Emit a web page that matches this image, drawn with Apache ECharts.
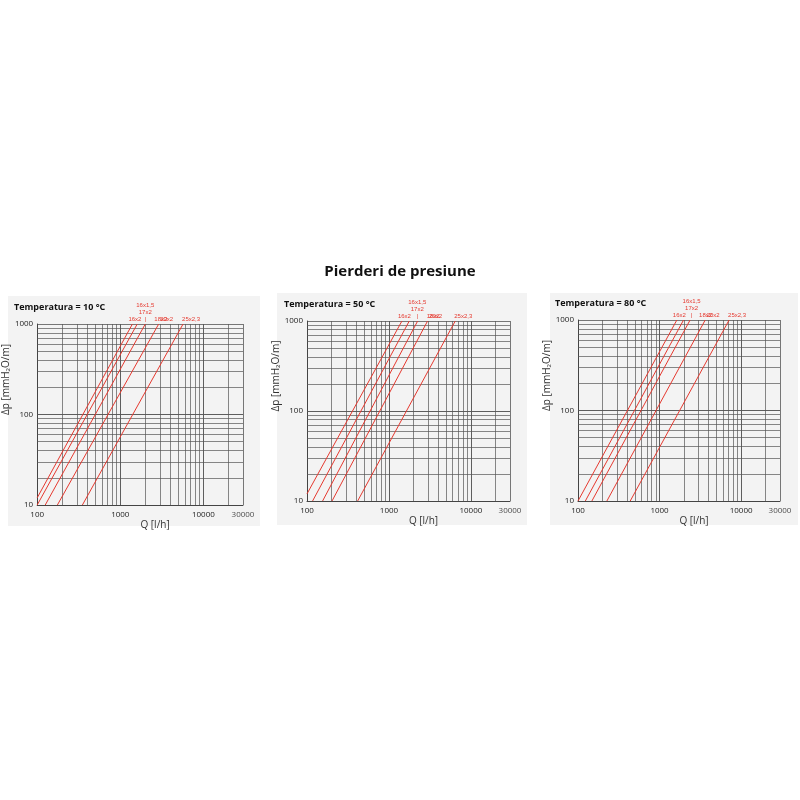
<!DOCTYPE html>
<html>
<head>
  <meta charset="utf-8">
  <title>Pierderi de presiune</title>
  <style>
  body { margin: 0; background: #fff; }
  #chart { width: 800px; height: 800px; }
  </style>
</head>
<body>
  <div id="chart"></div>
  <script src="https://cdn.jsdelivr.net/npm/echarts@6/dist/echarts.min.js"></script>
  <script>
  // denumiri conducte (etichete sus)
  const pipeNames = ['16x2', '16x1,5\n17x2\n|', '18x2', '20x2', '25x2,3'];
  const temps = ['Temperatura = 10 °C', 'Temperatura = 50 °C', 'Temperatura = 80 °C'];
  // capete de linie [Q, dp]
  const lines10 = [[[100, 12], [1400, 1000]], [[100, 10], [1600, 1000]], [[125, 10], [2000, 1000]], [[175, 10], [2900, 1000]], [[350, 10], [5700, 1000]]];
  const lines50 = [[[100, 12], [1440, 1000]], [[117, 10], [1770, 1000]], [[155, 10], [2240, 1000]], [[202, 10], [2960, 1000]], [[415, 10], [6440, 1000]]];
  const lines80 = [[[100, 10], [1630, 1000]], [[123, 10], [1970, 1000]], [[148, 10], [2370, 1000]], [[226, 10], [3630, 1000]], [[437, 10], [7130, 1000]]];
  const allLines = [lines10, lines50, lines80];
  // linii de grila
  const xGrid = [200, 300, 400, 500, 600, 700, 800, 900, 1000, 2000, 3000, 4000, 5000, 6000, 7000, 8000, 9000, 10000, 20000];
  const yGrid = [20, 30, 40, 50, 60, 70, 80, 90, 100, 200, 300, 400, 500, 600, 700, 800, 900];

  // asezare etichete: [align, offsetX]
  const labelPos = [['right', 1], ['center', 0], ['left', 1], ['center', 0], ['center', 0]];

  const boxes = [[8, 296, 252, 230], [277, 293, 250, 232], [550, 293, 248, 232]];
  const grids = [
    { left: 37, top: 324, width: 206, height: 181 },
    { left: 307, top: 321, width: 203, height: 180 },
    { left: 578, top: 320, width: 202, height: 181 }
  ];

  let option = {
    animation: false,
    title: [{
      text: 'Pierderi de presiune', left: 'center', top: 259,
      textStyle: { fontFamily: 'Open Sans', fontSize: 15, fontWeight: 'bold', color: '#111' }
    }],
    graphic: boxes.map(b => ({
      type: 'rect', z: -10, shape: { x: b[0], y: b[1], width: b[2], height: b[3] },
      style: { fill: '#f3f3f3' }
    })),
    grid: grids,
    xAxis: [], yAxis: [], series: []
  };

  grids.forEach((g, i) => {
    option.title.push({
      text: temps[i], left: g.left - 28, top: g.top - 26,
      textStyle: { fontFamily: 'Open Sans', fontSize: 9, fontWeight: 'bold', color: '#111' }
    });
    option.xAxis.push({
      type: 'log', gridIndex: i, min: 100, max: 30000, logBase: 10,
      name: 'Q [l/h]', nameLocation: 'middle', nameGap: 13,
      nameTextStyle: { fontFamily: 'Open Sans', fontSize: 10, color: '#333', padding: [0, 0, 0, 30] },
      axisLine: { lineStyle: { color: '#444' } }, axisTick: { show: false },
      axisLabel: { fontFamily: 'Open Sans', fontSize: 8, color: '#222', showMaxLabel: false, margin: 6, formatter: v => String(v) },
      splitLine: { show: true, lineStyle: { color: '#555', width: 0.8 } }
    });
    option.yAxis.push({
      type: 'log', gridIndex: i, min: 10, max: 1000, logBase: 10,
      name: 'Δp [mmH₂O/m]', nameLocation: 'middle', nameGap: 14, nameRotate: 90,
      nameTextStyle: { fontFamily: 'Open Sans', fontSize: 10, color: '#333', padding: [0, 0, 0, 70] },
      axisLine: { lineStyle: { color: '#444' } }, axisTick: { show: false },
      axisLabel: { fontFamily: 'Open Sans', fontSize: 8, color: '#222', margin: 4, formatter: v => String(v) },
      splitLine: { show: true, lineStyle: { color: '#555', width: 0.8 } }
    });
    // grila secundara
    option.series.push({
      type: 'line', xAxisIndex: i, yAxisIndex: i, data: [], silent: true,
      markLine: {
        symbol: 'none', silent: true, label: { show: false },
        lineStyle: { color: '#555', type: 'solid', width: 0.7 },
        data: xGrid.map(v => ({ xAxis: v })).concat(yGrid.map(v => ({ yAxis: v })))
      }
    });
    // eticheta 30000
    option.series.push({
      type: 'scatter', xAxisIndex: i, yAxisIndex: i, symbolSize: 0.1,
      data: [[30000, 10]],
      label: { show: true, position: 'bottom', distance: 6, formatter: '30000', fontFamily: 'Open Sans', fontSize: 8, color: '#222' }
    });
    allLines[i].forEach((pts, k) => {
      option.series.push({
        type: 'line', xAxisIndex: i, yAxisIndex: i, symbol: 'none',
        lineStyle: { color: '#e5392f', width: 1 }, z: 5,
        data: pts,
        endLabel: {
          show: true, formatter: pipeNames[k], fontSize: 6, color: '#e5392f',
          lineHeight: 7, align: labelPos[k][0], verticalAlign: 'bottom', offset: [labelPos[k][1], -1]
        }
      });
    });
  });

  let myChart = echarts.init(document.getElementById('chart'));
  myChart.setOption(option);
  </script>
</body>
</html>
